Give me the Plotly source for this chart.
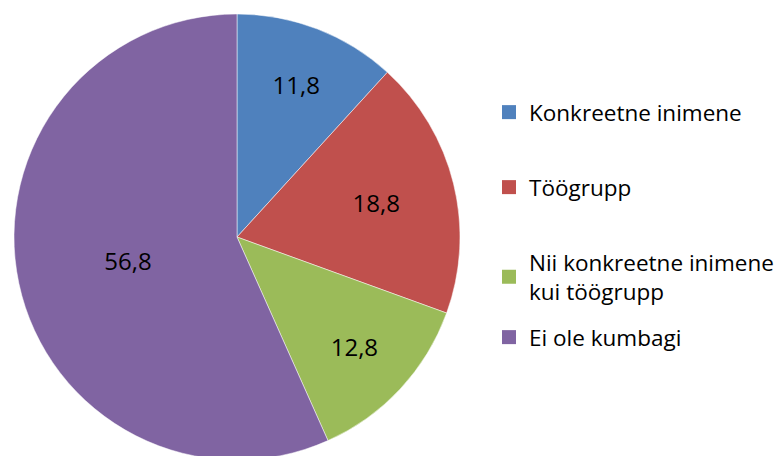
import plotly.graph_objects as go

categories = ["Konkreetne inimene", "Töögrupp", "Nii konkreetne inimene<br>kui töögrupp", "Ei ole kumbagi"]
values = [11.8, 18.8, 12.8, 56.8]
colors = ["#4F81BD", "#C0504D", "#9BBB59", "#8064A2"]
legend_y_px = [112, 187, 262, 337]  # first-line centre of each legend item (px from window top)

W, H = 784, 456
OFF = 8  # default page body margin
FONT = "Open Sans"

fig = go.Figure()
fig.add_trace(go.Pie(
    labels=categories, values=values, sort=False, direction="clockwise", rotation=0,
    marker=dict(colors=colors, line=dict(color="white", width=0.5)),
    texttemplate="%{value:.1f}", textposition="inside", insidetextorientation="horizontal",
    textfont=dict(family=FONT, size=24, color="black"),
    domain=dict(x=[6 / W, 452 / W], y=[4 / H, 450 / H]),
    showlegend=False, hoverinfo="label+value",
))

layout_legends = {}
for i, (cat, col, ypx) in enumerate(zip(categories, colors, legend_y_px)):
    lname = "legend" if i == 0 else f"legend{i+1}"
    fig.add_trace(go.Scatter(
        x=[None], y=[None], mode="markers", name=cat,
        marker=dict(symbol="square", size=14, color=col),
        legend=lname, showlegend=True, hoverinfo="skip",
    ))
    layout_legends[lname] = dict(
        x=489 / W - OFF / W, xanchor="left", y=1 - (ypx - 21 - OFF) / H, yanchor="top",
        font=dict(family=FONT, size=22.5, color="black"),
        bgcolor="rgba(0,0,0,0)", itemclick=False, itemdoubleclick=False,
    )

fig.update_layout(
    width=W, height=H, margin=dict(l=0, r=0, t=0, b=0),
    paper_bgcolor="white", plot_bgcolor="white",
    separators=",.",
    xaxis=dict(visible=False), yaxis=dict(visible=False),
    **layout_legends,
)

fig.write_html("out.html")
